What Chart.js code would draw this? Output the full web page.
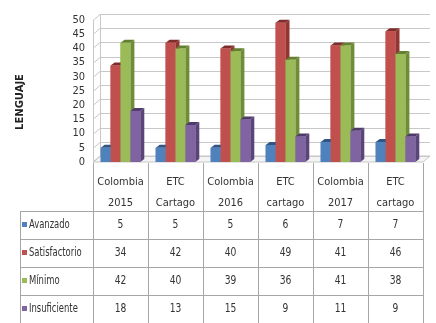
<!DOCTYPE html>
<html>
<head>
<meta charset="utf-8">
<script src="https://cdn.jsdelivr.net/npm/chart.js@4/dist/chart.umd.min.js"></script>
<style>
  html, body { margin: 0; background: #fff; }
  #wrap { width: 436px; height: 323px; }
</style>
</head>
<body>
<div id="wrap"><canvas id="chart"></canvas></div>
<script>
const categories = [
    ['Colombia', '2015'], ['ETC', 'Cartago'], ['Colombia', '2016'],
    ['ETC', 'cartago'], ['Colombia', '2017'], ['ETC', 'cartago']
];
const seriesNames = ['Avanzado', 'Satisfactorio', 'Mínimo', 'Insuficiente'];
const avanzado = [5, 5, 5, 6, 7, 7];
const satisfactorio = [34, 42, 40, 49, 41, 46];
const minimo = [42, 40, 39, 36, 41, 38];
const insuficiente = [18, 13, 15, 9, 11, 9];
const yTicks = { min: 0, max: 50, step: 5 };
const axisTitle = 'LENGUAJE';

const frontColors = ['#4f81bd', '#c0504d', '#9bbb59', '#8064a2'];
const sideColors = ['#36608f', '#913633', '#6f8c38', '#5b4479'];
const topColors = ['#2f5583', '#7e2d2b', '#62802f', '#4e3a6b'];

const FONT = '"Liberation Sans Narrow", "DejaVu Sans Condensed", sans-serif';
const TEXT = '#333';
const LINE = '#a6a6a6';
const WALL_DX = 7, WALL_DY = 6;
const BAR_DX = 4, BAR_DY = 3;
const TABLE_LEFT = 20, HEADER_BOTTOM = 211, ROW_H = 28;

const seriesValues = [avanzado, satisfactorio, minimo, insuficiente];

// back wall, floor and gridlines of the 3d box
const wallsPlugin = {
    id: 'walls',
    beforeDatasetsDraw(chart) {
        const { ctx, chartArea: a, scales: { y } } = chart;
        ctx.save();
        ctx.lineWidth = 1;
        ctx.strokeStyle = '#c8c8c8';

        ctx.fillStyle = '#f4f4f4';
        ctx.beginPath();
        ctx.moveTo(a.left, a.bottom);
        ctx.lineTo(a.left + WALL_DX, a.bottom - WALL_DY);
        ctx.lineTo(a.right + WALL_DX, a.bottom - WALL_DY);
        ctx.lineTo(a.right, a.bottom);
        ctx.closePath();
        ctx.fill();
        ctx.stroke();

        y.ticks.forEach(t => {
            const py = Math.round(y.getPixelForValue(t.value)) + 0.5;
            ctx.beginPath();
            ctx.moveTo(a.left, py);
            ctx.lineTo(a.left + WALL_DX, py - WALL_DY);
            ctx.lineTo(a.right + WALL_DX, py - WALL_DY);
            ctx.stroke();
        });

        ctx.beginPath();
        ctx.moveTo(a.left + 0.5, a.bottom);
        ctx.lineTo(a.left + 0.5, a.top);
        ctx.moveTo(a.left + WALL_DX + 0.5, a.bottom - WALL_DY);
        ctx.lineTo(a.left + WALL_DX + 0.5, a.top - WALL_DY);
        ctx.stroke();
        ctx.restore();
    }
};

// gives every bar a top and right face, then redraws fronts left to right
const bars3dPlugin = {
    id: 'bars3d',
    afterDatasetsDraw(chart) {
        const ctx = chart.ctx;
        ctx.save();
        chart.data.datasets.forEach((ds, d) => {
            chart.getDatasetMeta(d).data.forEach(bar => {
                const { x, y, base, width } = bar.getProps(['x', 'y', 'base', 'width'], true);
                const l = x - width / 2, r = x + width / 2;
                ctx.fillStyle = sideColors[d];
                ctx.beginPath();
                ctx.moveTo(r, y);
                ctx.lineTo(r + BAR_DX, y - BAR_DY);
                ctx.lineTo(r + BAR_DX, base - BAR_DY);
                ctx.lineTo(r, base);
                ctx.closePath();
                ctx.fill();
                ctx.fillStyle = topColors[d];
                ctx.beginPath();
                ctx.moveTo(l, y);
                ctx.lineTo(l + BAR_DX, y - BAR_DY);
                ctx.lineTo(r + BAR_DX, y - BAR_DY);
                ctx.lineTo(r, y);
                ctx.closePath();
                ctx.fill();
                bar.draw(ctx);
            });
        });
        ctx.restore();
    }
};

function narrowText(ctx, text, x, y, squeeze) {
    ctx.save();
    ctx.translate(x, y);
    ctx.scale(squeeze, 1);
    ctx.fillText(text, 0, 0);
    ctx.restore();
}

// data table under the categories plus the rotated axis title
const tablePlugin = {
    id: 'dataTable',
    afterDraw(chart) {
        const { ctx, chartArea: a, scales: { x } } = chart;
        const n = categories.length;
        const colW = x.getPixelForValue(1) - x.getPixelForValue(0);
        const bottom = chart.height;
        ctx.save();
        ctx.strokeStyle = LINE;
        ctx.lineWidth = 1;
        ctx.beginPath();
        for (let i = 0; i <= n; i++) {
            const px = Math.round(x.getPixelForValue(0) - colW / 2 + i * colW) + 0.5;
            ctx.moveTo(px, a.bottom + 1);
            ctx.lineTo(px, bottom);
        }
        ctx.moveTo(TABLE_LEFT + 0.5, HEADER_BOTTOM);
        ctx.lineTo(TABLE_LEFT + 0.5, bottom);
        for (let r = 0; r < seriesNames.length; r++) {
            const py = HEADER_BOTTOM + r * ROW_H + 0.5;
            ctx.moveTo(TABLE_LEFT, py);
            ctx.lineTo(a.right + 1, py);
        }
        ctx.stroke();

        ctx.font = '12px ' + FONT;
        ctx.textBaseline = 'middle';
        seriesNames.forEach((name, r) => {
            const cy = HEADER_BOTTOM + r * ROW_H + ROW_H / 2;
            ctx.fillStyle = frontColors[r];
            ctx.fillRect(TABLE_LEFT + 2, cy - 3, 5, 5);
            ctx.fillStyle = TEXT;
            ctx.textAlign = 'left';
            narrowText(ctx, name, TABLE_LEFT + 9, cy, 0.78);
            ctx.textAlign = 'center';
            seriesValues[r].forEach((v, i) => {
                narrowText(ctx, String(v), x.getPixelForValue(i), cy, 0.85);
            });
        });

        ctx.translate(20, (a.top + a.bottom) / 2 + 11);
        ctx.rotate(-Math.PI / 2);
        ctx.font = 'bold 10px "DejaVu Sans", sans-serif';
        ctx.fillStyle = '#222';
        ctx.textAlign = 'center';
        ctx.fillText(axisTitle, 0, 0);
        ctx.restore();
    }
};

const ctx = document.getElementById('chart').getContext('2d');
const chart = new Chart(ctx, {
    type: 'bar',
    data: {
        labels: categories,
        datasets: seriesNames.map((name, i) => ({
            label: name,
            data: seriesValues[i],
            backgroundColor: frontColors[i],
            borderWidth: 0,
            categoryPercentage: 0.72,
            barPercentage: 1
        }))
    },
    options: {
        responsive: true,
        maintainAspectRatio: false,
        animation: false,
        layout: { padding: { top: 20, right: 13, left: 0, bottom: 0 } },
        plugins: { legend: { display: false }, tooltip: { enabled: false } },
        scales: {
            x: {
                grid: { display: false },
                border: { display: false },
                ticks: {
                    color: TEXT,
                    font: { family: FONT, size: 11, lineHeight: 1.9 },
                    padding: 2,
                    maxRotation: 0
                },
                afterFit(scale) { scale.height = 161; }
            },
            y: {
                min: yTicks.min,
                max: yTicks.max,
                grid: { display: false, drawTicks: false },
                border: { display: false },
                ticks: {
                    stepSize: yTicks.step,
                    autoSkip: false,
                    color: TEXT,
                    font: { family: FONT, size: 11 },
                    padding: 8
                },
                afterFit(scale) { scale.width = 93; }
            }
        }
    },
    plugins: [wallsPlugin, bars3dPlugin, tablePlugin]
});
</script>
</body>
</html>
